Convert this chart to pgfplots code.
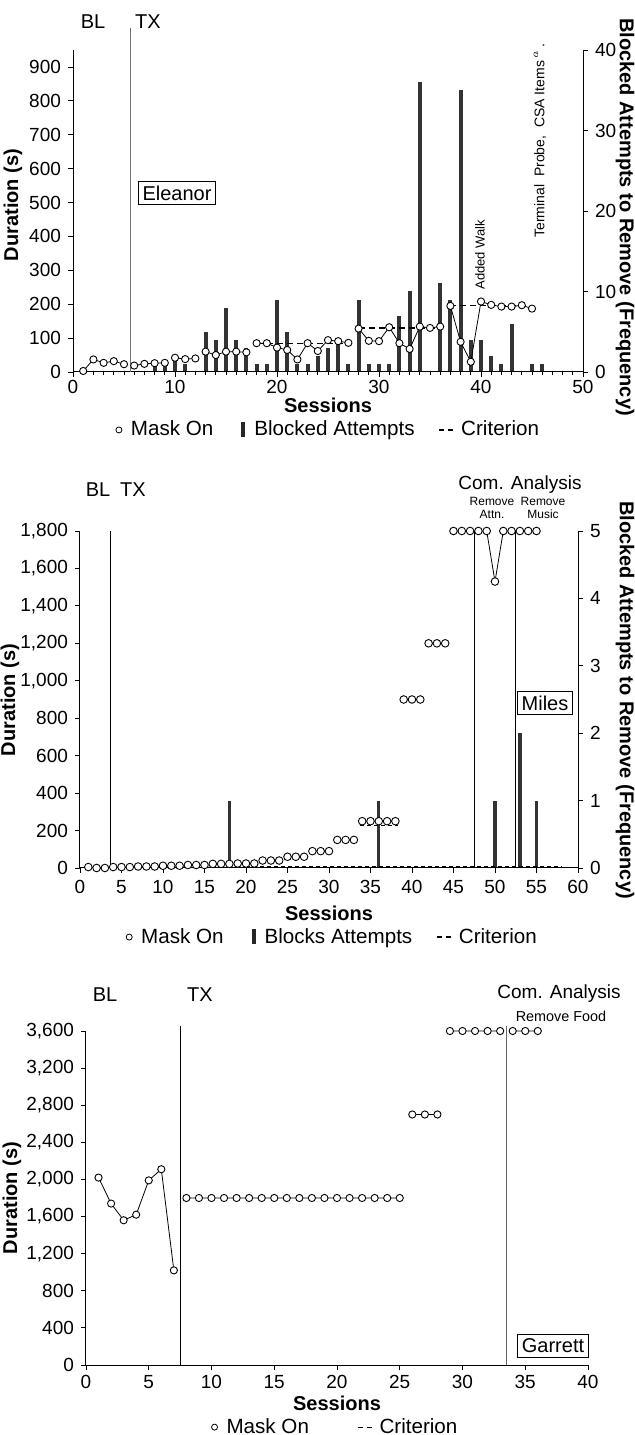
\documentclass[border=0pt]{standalone}
\usepackage{fontspec}
\setmainfont{Liberation Sans}
\usepackage{pgfplots}
\pgfplotsset{compat=1.18}
\pgfplotsset{
  base/.style={
    scale only axis, clip=false,
    axis x line*=bottom, axis y line*=left,
    axis line style={-, line width=0.5pt},
    tick align=outside,
    major tick length=2.5pt, minor tick length=1.5pt,
    tick style={black, line width=0.4pt},
    /pgf/number format/assume math mode=true,
    /pgf/number format/1000 sep={,},
    tick label style={font=\fontsize{9.5}{11}\selectfont},
    legend style={draw=none, fill=none, font=\fontsize{10.3}{12}\selectfont, legend columns=-1,
      /tikz/every even column/.append style={column sep=10pt}},
  },
  rbase/.style={
    scale only axis, clip=false,
    axis x line=none, axis y line*=right,
    axis line style={-, line width=0.5pt},
    tick align=outside, major tick length=2.5pt,
    tick style={black, line width=0.4pt},
    /pgf/number format/assume math mode=true,
    tick label style={font=\fontsize{9.5}{11}\selectfont},
  },
  mo/.style={black, line width=0.4pt, mark=*, mark options={fill=white, draw=black, solid, line width=0.45pt}, mark size=1.8pt, unbounded coords=jump},
  crit/.style={black, line width=0.6pt, dash pattern=on 3pt off 2pt, no marks, unbounded coords=jump},
  bars/.style={ycomb, no marks, line width=2pt, color=black!80},
  limg/.style={legend image code/.code={\path[draw=none, fill=none] (0pt,0pt) -- (7pt,0pt); \draw[black, fill=white, line width=0.4pt, solid] (3pt,0pt) circle (1.5pt);}},
  bimg/.style={legend image code/.code={\path[draw=none, fill=none] (0pt,0pt) -- (6.5pt,0pt); \fill[black!85, draw=none] (2pt,-3.5pt) rectangle (4pt,4pt);}},
  cimg/.style={legend image code/.code={\path[draw=none, fill=none] (0pt,0pt) -- (9pt,0pt); \draw[black, line width=0.6pt, dash pattern=on 2.5pt off 2pt] (0pt,0pt) -- (7pt,0pt);}},
}
\newcommand\lab{\fontsize{10}{12}\selectfont\bfseries}
\newcommand\txt{\fontsize{10}{12}\selectfont}
\begin{document}
\begin{tikzpicture}
\useasboundingbox (0,0) rectangle (317.5pt,717.5pt);

%================ TOP PANEL (Eleanor) ================
\begin{axis}[rbase, at={(36.5pt,531.5pt)}, anchor=south west, width=255pt, height=161pt,
  xmin=0, xmax=50, ymin=0, ymax=40, ytick={0,10,...,40}]
\addplot[bars] coordinates {(8,1)(9,1)(10,2)(11,1)(13,5)(14,4)(15,8)(16,4)(17,3)(18,1)(19,1)(20,9)(21,5)(22,1)(23,1)(24,2)(25,3)(26,4)(27,1)(28,9)(29,1)(30,1)(31,1)(32,7)(33,10)(34,36)(36,11)(37,9)(38,35)(39,4)(40,4)(41,2)(42,1)(43,6)(45,1)(46,1)};
\end{axis}
\begin{axis}[base, at={(36.5pt,531.5pt)}, anchor=south west, width=255pt, height=161pt,
  xmin=0, xmax=50, ymin=0, ymax=950, xtick={0,10,...,50}, minor x tick num=9,
  ytick={0,100,...,900}, xticklabel style={yshift=2pt},
  legend entries={Mask On, Blocked Attempts, Criterion},
  legend style={at={(0.5,-0.180)}, anchor=center}]
\addlegendimage{limg}
\addlegendimage{bimg}
\addlegendimage{cimg}
\addplot[black!55, line width=0.6pt, no marks] coordinates {(5.6,0)(5.6,1015)};
\addplot[crit] coordinates {(18,85)(27,85)(27.5,nan)(28,130)(36,130)(36.5,nan)(37,195)(45,195)};
\addplot[mo] coordinates {(1,3)(2,37)(3,27)(4,32)(5,23)(5.5,nan)
 (6,19)(7,24)(8,26)(9,27)(9.5,nan)
 (10,42)(11,38)(12,40)(12.5,nan)
 (13,60)(14,50)(15,60)(16,60)(17,58)(17.5,nan)
 (18,85)(19,85)(20,72)(21,65)(22,37)(23,85)(24,62)(25,94)(26,91)(27,86)(27.5,nan)
 (28,128)(29,92)(30,91)(31,132)(32,85)(33,68)(34,134)(35,130)(36,134)(36.5,nan)
 (37,195)(38,89)(39,30)(40,208)(41,198)(42,193)(43,193)(44,197)(45,187)};
\end{axis}

%================ MIDDLE PANEL (Miles) ================
\begin{axis}[rbase, at={(40pt,283.5pt)}, anchor=south west, width=249pt, height=168.5pt,
  xmin=0, xmax=60, ymin=0, ymax=5, ytick={0,1,...,5}]
\addplot[bars, line width=1.6pt] coordinates {(18,1)(36,1)(50,1)(53,2)(55,1)};
\end{axis}
\begin{axis}[base, at={(40pt,283.5pt)}, anchor=south west, width=249pt, height=168.5pt,
  xmin=0, xmax=60, ymin=0, ymax=1800, xtick={0,5,...,60},
  ytick={0,200,...,1800},
  legend entries={Mask On, Blocks Attempts, Criterion},
  legend style={at={(0.506,-0.205)}, anchor=center}]
\addlegendimage{limg}
\addlegendimage{bimg}
\addlegendimage{cimg}
\addplot[black, line width=0.5pt, no marks] coordinates {(3.7,0)(3.7,1800)};
\addplot[black, line width=0.5pt, no marks] coordinates {(47.5,0)(47.5,1800)};
\addplot[black, line width=0.5pt, no marks] coordinates {(52.5,0)(52.5,1800)};
\addplot[crit, line width=0.5pt, dash pattern=on 2pt off 1.5pt] coordinates {(20,8)(58,8)(58.5,nan)(33.7,228)(38.3,228)};
\addplot[mo, mark size=1.9pt] coordinates {(1,5)(2,0)(3,0)(3.5,nan)
 (4,5)(5,5)(6,5)(6.5,nan)
 (7,8)(8,8)(9,8)(9.5,nan)
 (10,12)(11,12)(12,12)(12.5,nan)
 (13,16)(14,16)(15,16)(15.5,nan)
 (16,22)(17,22)(18,22)(18.5,nan)
 (19,24)(20,24)(21,24)(21.5,nan)
 (22,40)(23,40)(24,40)(24.5,nan)
 (25,60)(26,60)(27,60)(27.5,nan)
 (28,90)(29,90)(30,90)(30.5,nan)
 (31,150)(32,150)(33,150)(33.5,nan)
 (34,250)(35,250)(36,250)(37,250)(38,250)(38.5,nan)
 (39,900)(40,900)(41,900)(41.5,nan)
 (42,1200)(43,1200)(44,1200)(44.5,nan)
 (45,1800)(46,1800)(47,1800)(47.5,nan)
 (48,1800)(49,1800)(50,1530)(51,1800)(52,1800)(52.5,nan)
 (53,1800)(54,1800)(55,1800)};
\end{axis}

%================ BOTTOM PANEL (Garrett) ================
\begin{axis}[base, at={(43pt,35pt)}, anchor=south west, width=251pt, height=167pt,
  xmin=0, xmax=40, ymin=0, ymax=3600, xtick={0,5,...,40},
  ytick={0,400,...,3600}, xticklabel style={yshift=1pt},
  legend entries={Mask On, Criterion},
  legend style={at={(0.496,-0.186)}, anchor=center, /tikz/every even column/.append style={column sep=22pt}}]
\addlegendimage{limg}
\addlegendimage{cimg}
\addplot[black, line width=0.5pt, no marks] coordinates {(7.5,0)(7.5,3650)};
\addplot[black!60, line width=0.6pt, no marks] coordinates {(33.5,0)(33.5,3650)};
\addplot[mo, mark size=1.8pt] coordinates {(1,2020)(2,1740)(3,1560)(4,1620)(5,1990)(6,2110)(7,1020)(7.5,nan)
 (8,1800)(9,1800)(10,1800)(11,1800)(12,1800)(13,1800)(14,1800)(15,1800)(16,1800)(17,1800)(18,1800)(19,1800)(20,1800)(21,1800)(22,1800)(23,1800)(24,1800)(25,1800)(25.5,nan)
 (26,2700)(27,2700)(28,2700)(28.5,nan)
 (29,3600)(30,3600)(31,3600)(32,3600)(33,3600)(33.5,nan)
 (34,3600)(35,3600)(36,3600)};
\end{axis}

%================ TEXT (pixel coordinates of the reference) ================
\begin{scope}[x=0.5pt, y=-0.5pt, yshift=717.5pt]
% top
\node[font=\txt] at (93,22) {BL};
\node[font=\txt] at (148,22) {TX};
\node[draw, line width=0.5pt, inner sep=2pt, font=\txt] at (177,193) {Eleanor};
\node[rotate=90, anchor=west, font=\fontsize{6.5}{8}\selectfont, inner sep=0pt] at (480,290) {Added Walk};
\node[rotate=90, anchor=west, font=\fontsize{7}{8}\selectfont, inner sep=0pt] at (540,238) {Terminal\ \ Probe,\ \ CSA Items\,$^{a}$\,.};
\node[rotate=90, font=\lab, inner sep=0pt] at (13,205) {Duration (s)};
\node[rotate=-90, font=\lab, inner sep=0pt] at (625,217) {Blocked Attempts to Remove (Frequency)};
\node[font=\lab, inner sep=0pt] at (328,405) {Sessions};
% middle
\node[font=\txt] at (98,490) {BL};
\node[font=\txt] at (133,490) {TX};
\node[font=\fontsize{9.5}{11}\selectfont] at (520,485) {Com. Analysis};
\node[font=\fontsize{6}{6.5}\selectfont, align=center, inner sep=0pt] at (492,508) {Remove\\Attn.};
\node[font=\fontsize{6}{6.5}\selectfont, align=center, inner sep=0pt] at (543,508) {Remove\\Music};
\node[draw, line width=0.5pt, inner sep=2pt, font=\txt] at (545,703) {Miles};
\node[rotate=90, font=\lab, inner sep=0pt] at (10,700) {Duration (s)};
\node[rotate=-90, font=\lab, inner sep=0pt] at (625,700) {Blocked Attempts to Remove (Frequency)};
\node[font=\lab, inner sep=0pt] at (329,913) {Sessions};
% bottom
\node[font=\txt] at (105,995) {BL};
\node[font=\txt] at (200,995) {TX};
\node[font=\fontsize{9.5}{11}\selectfont] at (559,994) {Com. Analysis};
\node[font=\fontsize{7.2}{8}\selectfont] at (561,1016) {Remove Food};
\node[draw, line width=0.5pt, inner sep=2pt, font=\txt] at (553,1346) {Garrett};
\node[rotate=90, font=\lab, inner sep=0pt] at (12,1198) {Duration (s)};
\node[font=\lab, inner sep=0pt] at (337,1403) {Sessions};
\end{scope}
\end{tikzpicture}
\end{document}
